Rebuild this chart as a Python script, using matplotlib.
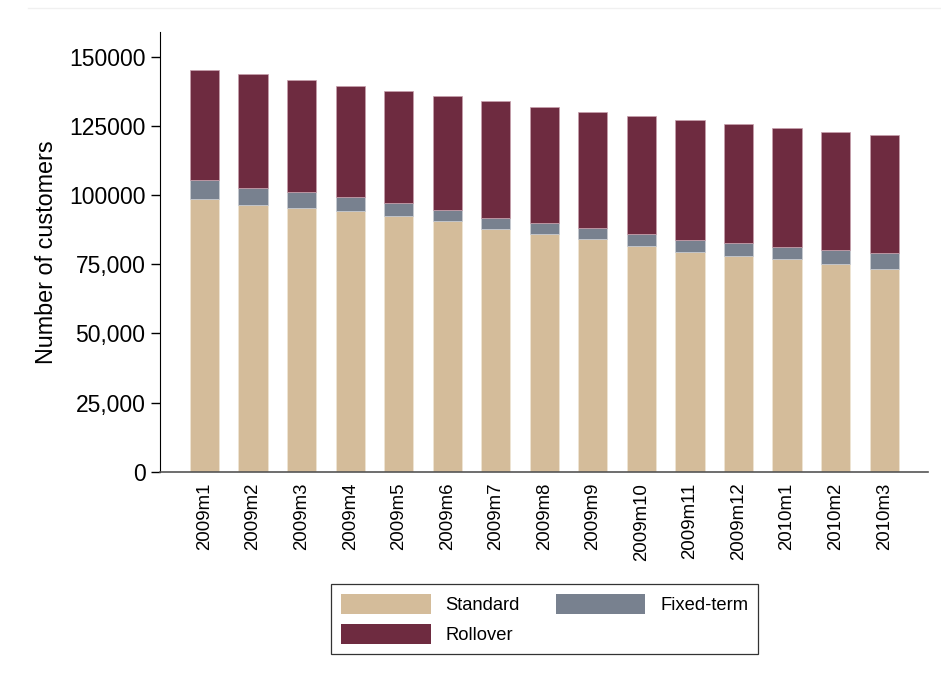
import numpy as np
import matplotlib
matplotlib.use("Agg")
import matplotlib.pyplot as plt
from matplotlib.lines import Line2D

plt.rcParams["font.family"] = ["Liberation Sans", "DejaVu Sans"]

months = ["2009m1", "2009m2", "2009m3", "2009m4", "2009m5", "2009m6", "2009m7",
          "2009m8", "2009m9", "2009m10", "2009m11", "2009m12", "2010m1",
          "2010m2", "2010m3"]
# (cumulative tops converted to segment sizes below)
standard = [98600, 96400, 95400, 94400, 92600, 90700, 87700, 85900, 84200,
            81500, 79600, 78000, 76800, 75000, 73300]
fixed_top = [105400, 102700, 101200, 99400, 97200, 94800, 91800, 90000, 88300,
             85900, 83900, 82600, 81300, 80200, 79100]
total = [145300, 143800, 141600, 139500, 137700, 136000, 133900, 131900, 130200,
         128800, 127200, 125700, 124200, 122900, 121700]

standard = np.array(standard)
fixed = np.array(fixed_top) - standard
rollover = np.array(total) - np.array(fixed_top)

C_STD, C_FIX, C_ROLL = "#d4bc9a", "#78818f", "#6e2b40"

fig = plt.figure(figsize=(9.41, 6.84), dpi=100)
ax = fig.add_axes([0.170, 0.3104, 0.816, 0.6428])

x = np.arange(len(months))
w = 0.6
b_std = ax.bar(x, standard, w, color=C_STD, edgecolor="#f0e6d6", lw=0.5, label="Standard")
b_fix = ax.bar(x, fixed, w, bottom=standard, color=C_FIX, edgecolor="#c8ccd2", lw=0.5, label="Fixed-term")
b_rol = ax.bar(x, rollover, w, bottom=standard + fixed, color=C_ROLL, edgecolor="#c8a0ad", lw=0.5, label="Rollover")

ax.set_xlim(-0.917, 14.9)
ax.set_ylim(0, 159000)
yt = [0, 25000, 50000, 75000, 100000, 125000, 150000]
ax.set_yticks(yt)
ax.set_yticklabels(["0", "25,000", "50,000", "75,000", "100000", "125000", "150000"])
ax.set_xticks(x)
ax.set_xticklabels(months, rotation=90, fontsize=13.4)
ax.tick_params(axis="x", length=0, pad=8)
ax.tick_params(axis="y", length=6.5, width=1, labelsize=16.5, pad=4, direction="out")
ax.set_ylabel("Number of customers", fontsize=16.8, labelpad=8)

for s in ("top", "right"):
    ax.spines[s].set_visible(False)
ax.spines["left"].set_color("black")
ax.spines["bottom"].set_color("#555555")
ax.spines["bottom"].set_linewidth(1.2)

# column-major fill: Standard / Rollover in col 1, Fixed-term in col 2
leg = fig.legend([b_std, b_rol, b_fix], ["Standard", "Rollover", "Fixed-term"], ncol=2,
                 loc="center", bbox_to_anchor=(0.5787, 0.095), fontsize=13.2,
                 frameon=True, fancybox=False, edgecolor="black",
                 handlelength=4.9, handleheight=1.3, handletextpad=0.8,
                 columnspacing=1.95, borderpad=0.55, labelspacing=0.55)
leg.get_frame().set_linewidth(0.9)
for p in leg.get_patches():
    p.set_edgecolor("none")

# faint frame line at the very top of the canvas
fig.add_artist(Line2D([0.03, 1.0], [1 - 8 / 684, 1 - 8 / 684], color="#f0f0f0", lw=1))

fig.savefig("out.png", dpi=100)
